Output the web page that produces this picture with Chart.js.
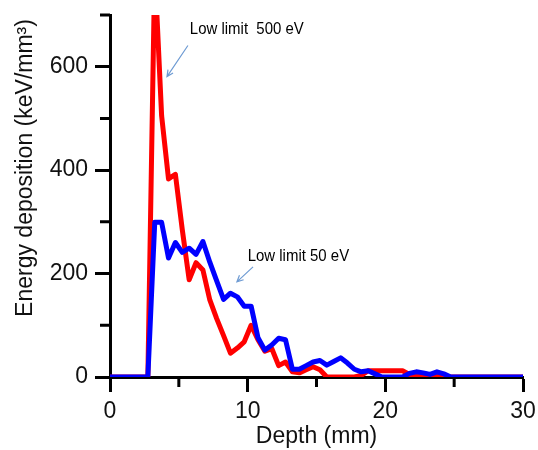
<!DOCTYPE html>
<html>
<head>
<meta charset="utf-8">
<script src="https://cdn.jsdelivr.net/npm/chart.js@4.4.1/dist/chart.umd.min.js"></script>
<style>
  html, body { margin: 0; padding: 0; background: #fff; }
  #wrap { width: 538px; height: 450px; position: relative; }
</style>
</head>
<body>
<div id="wrap"><canvas id="dose"></canvas></div>
<script>
// depth bins (mm) and energy deposition (keV/mm3) for both cut-off energies
const depth = [0, 2.75, 3.25, 3.75, 4.25, 4.75, 5.25, 5.75, 6.25, 6.75, 7.25, 7.75,
  8.25, 8.75, 9.25, 9.75, 10.25, 10.75, 11.25, 11.75, 12.25, 12.75, 13.25, 13.75,
  14.25, 14.75, 15.25, 15.75, 16.25, 16.75, 17.25, 17.75, 18.25, 18.75, 19.25, 19.75,
  20.25, 20.75, 21.25, 21.75, 22.25, 22.75, 23.25, 23.75, 24.25, 24.75, 25.25, 30];

const limit500 = [0, 0, 790, 505, 383, 392, 285, 188, 221, 207, 149, 113,
  80, 46, 56, 68, 100, 72, 50, 55, 22, 29, 10, 8,
  14, 20, 14, 0, 0, 0, 0, 0, 3, 12, 12, 12,
  12, 12, 12, 5, 3, 3, 3, 3, 2, 0, 0, 0];

const limit50 = [0, 0, 299, 299, 230, 260, 241, 249, 237, 262, 222, 186,
  150, 162, 155, 137, 137, 76, 52, 62, 75, 72, 15, 15,
  22, 29, 32, 23, 30, 37, 27, 15, 10, 12, 6, 0,
  0, 0, 0, 7, 10, 8, 5, 10, 6, 0, 0, 0];

const xTicks = [0, 10, 20, 30];
const yTicks = [0, 200, 400, 600];

// callouts: text anchor and arrow (from -> tip) in data units
const notes = [
  { text: 'Low limit  500 eV', at: [5.8, 664], from: [5.66, 641], to: [4.14, 581] },
  { text: 'Low limit 50 eV', at: [10.0, 224], from: [10.39, 213], to: [9.22, 184] }
];

const series = vals => depth.map((d, i) => ({ x: d, y: vals[i] }));

const axisFont = { family: 'Liberation Sans, Arial, sans-serif', size: 23 };

// draws short minor ticks, the rotated y title and the callouts
const extras = {
  id: 'extras',
  afterDraw(chart) {
    const { ctx, scales: { x, y } } = chart;
    ctx.save();
    ctx.strokeStyle = '#000';
    ctx.lineWidth = 3;
    ctx.beginPath();
    for (let v = 5; v < 30; v += 10) {
      const px = x.getPixelForValue(v);
      ctx.moveTo(px, y.bottom);
      ctx.lineTo(px, y.bottom + 10);
    }
    for (let v = 100; v <= 700; v += 200) {
      const py = y.getPixelForValue(v);
      ctx.moveTo(x.left, py);
      ctx.lineTo(x.left - 10, py);
    }
    ctx.stroke();

    ctx.fillStyle = '#111';
    ctx.font = '23px Liberation Sans, Arial, sans-serif';
    ctx.textAlign = 'center';
    ctx.textBaseline = 'middle';
    ctx.translate(26, 168);
    ctx.rotate(-Math.PI / 2);
    ctx.fillText('Energy deposition (keV/mm³)', 0, 0);
    ctx.restore();

    ctx.save();
    ctx.strokeStyle = '#6e9bd3';
    ctx.lineWidth = 1.2;
    notes.forEach(n => {
      const x0 = x.getPixelForValue(n.from[0]), y0 = y.getPixelForValue(n.from[1]);
      const x1 = x.getPixelForValue(n.to[0]), y1 = y.getPixelForValue(n.to[1]);
      const a = Math.atan2(y1 - y0, x1 - x0);
      ctx.beginPath();
      ctx.moveTo(x0, y0);
      ctx.lineTo(x1, y1);
      ctx.moveTo(x1 - 7 * Math.cos(a - 0.45), y1 - 7 * Math.sin(a - 0.45));
      ctx.lineTo(x1, y1);
      ctx.lineTo(x1 - 7 * Math.cos(a + 0.45), y1 - 7 * Math.sin(a + 0.45));
      ctx.stroke();

      // condensed label text
      ctx.save();
      ctx.translate(x.getPixelForValue(n.at[0]), y.getPixelForValue(n.at[1]));
      ctx.scale(0.88, 1);
      ctx.font = '17px Liberation Sans, Arial, sans-serif';
      ctx.fillStyle = '#000';
      ctx.textBaseline = 'alphabetic';
      ctx.fillText(n.text, 0, 0);
      ctx.restore();
    });
    ctx.restore();
  }
};

new Chart(document.getElementById('dose'), {
  type: 'line',
  data: {
    datasets: [
      {
        label: 'Low limit 50 eV',
        data: series(limit50),
        borderColor: '#0000ff',
        borderWidth: 5,
        borderJoinStyle: 'round',
        pointRadius: 0,
        tension: 0
      },
      {
        label: 'Low limit 500 eV',
        data: series(limit500),
        borderColor: '#ff0000',
        borderWidth: 5,
        borderJoinStyle: 'round',
        pointRadius: 0,
        tension: 0
      }
    ]
  },
  options: {
    responsive: true,
    maintainAspectRatio: false,
    animation: false,
    layout: { padding: { top: 15, right: 15, left: 0, bottom: 0 } },
    plugins: { legend: { display: false }, tooltip: { enabled: false } },
    scales: {
      x: {
        type: 'linear',
        min: 0,
        max: 30,
        afterFit: s => { s.height = 73; s.paddingRight = 15; },
        border: { color: '#000', width: 3 },
        grid: {
          drawOnChartArea: false,
          tickLength: 15,
          tickWidth: 3,
          tickColor: c => xTicks.includes(c.tick.value) ? '#000' : 'rgba(0,0,0,0)'
        },
        ticks: {
          stepSize: 5,
          autoSkip: false,
          maxRotation: 0,
          padding: 6,
          color: '#111',
          font: axisFont,
          callback: v => xTicks.includes(v) ? v : ''
        },
        title: {
          display: true,
          text: 'Depth (mm)',
          color: '#111',
          font: axisFont,
          padding: 0
        }
      },
      y: {
        min: 0,
        max: 700,
        afterFit: s => { s.width = 110; s.paddingTop = 15; s.paddingBottom = 0; },
        border: { color: '#000', width: 3 },
        grid: {
          drawOnChartArea: false,
          tickLength: 15,
          tickWidth: 3,
          tickColor: c => yTicks.includes(c.tick.value) ? '#000' : 'rgba(0,0,0,0)'
        },
        ticks: {
          stepSize: 100,
          autoSkip: false,
          padding: 7,
          color: '#111',
          font: axisFont,
          callback: v => yTicks.includes(v) ? v : ''
        }
      }
    }
  },
  plugins: [extras]
});
</script>
</body>
</html>
